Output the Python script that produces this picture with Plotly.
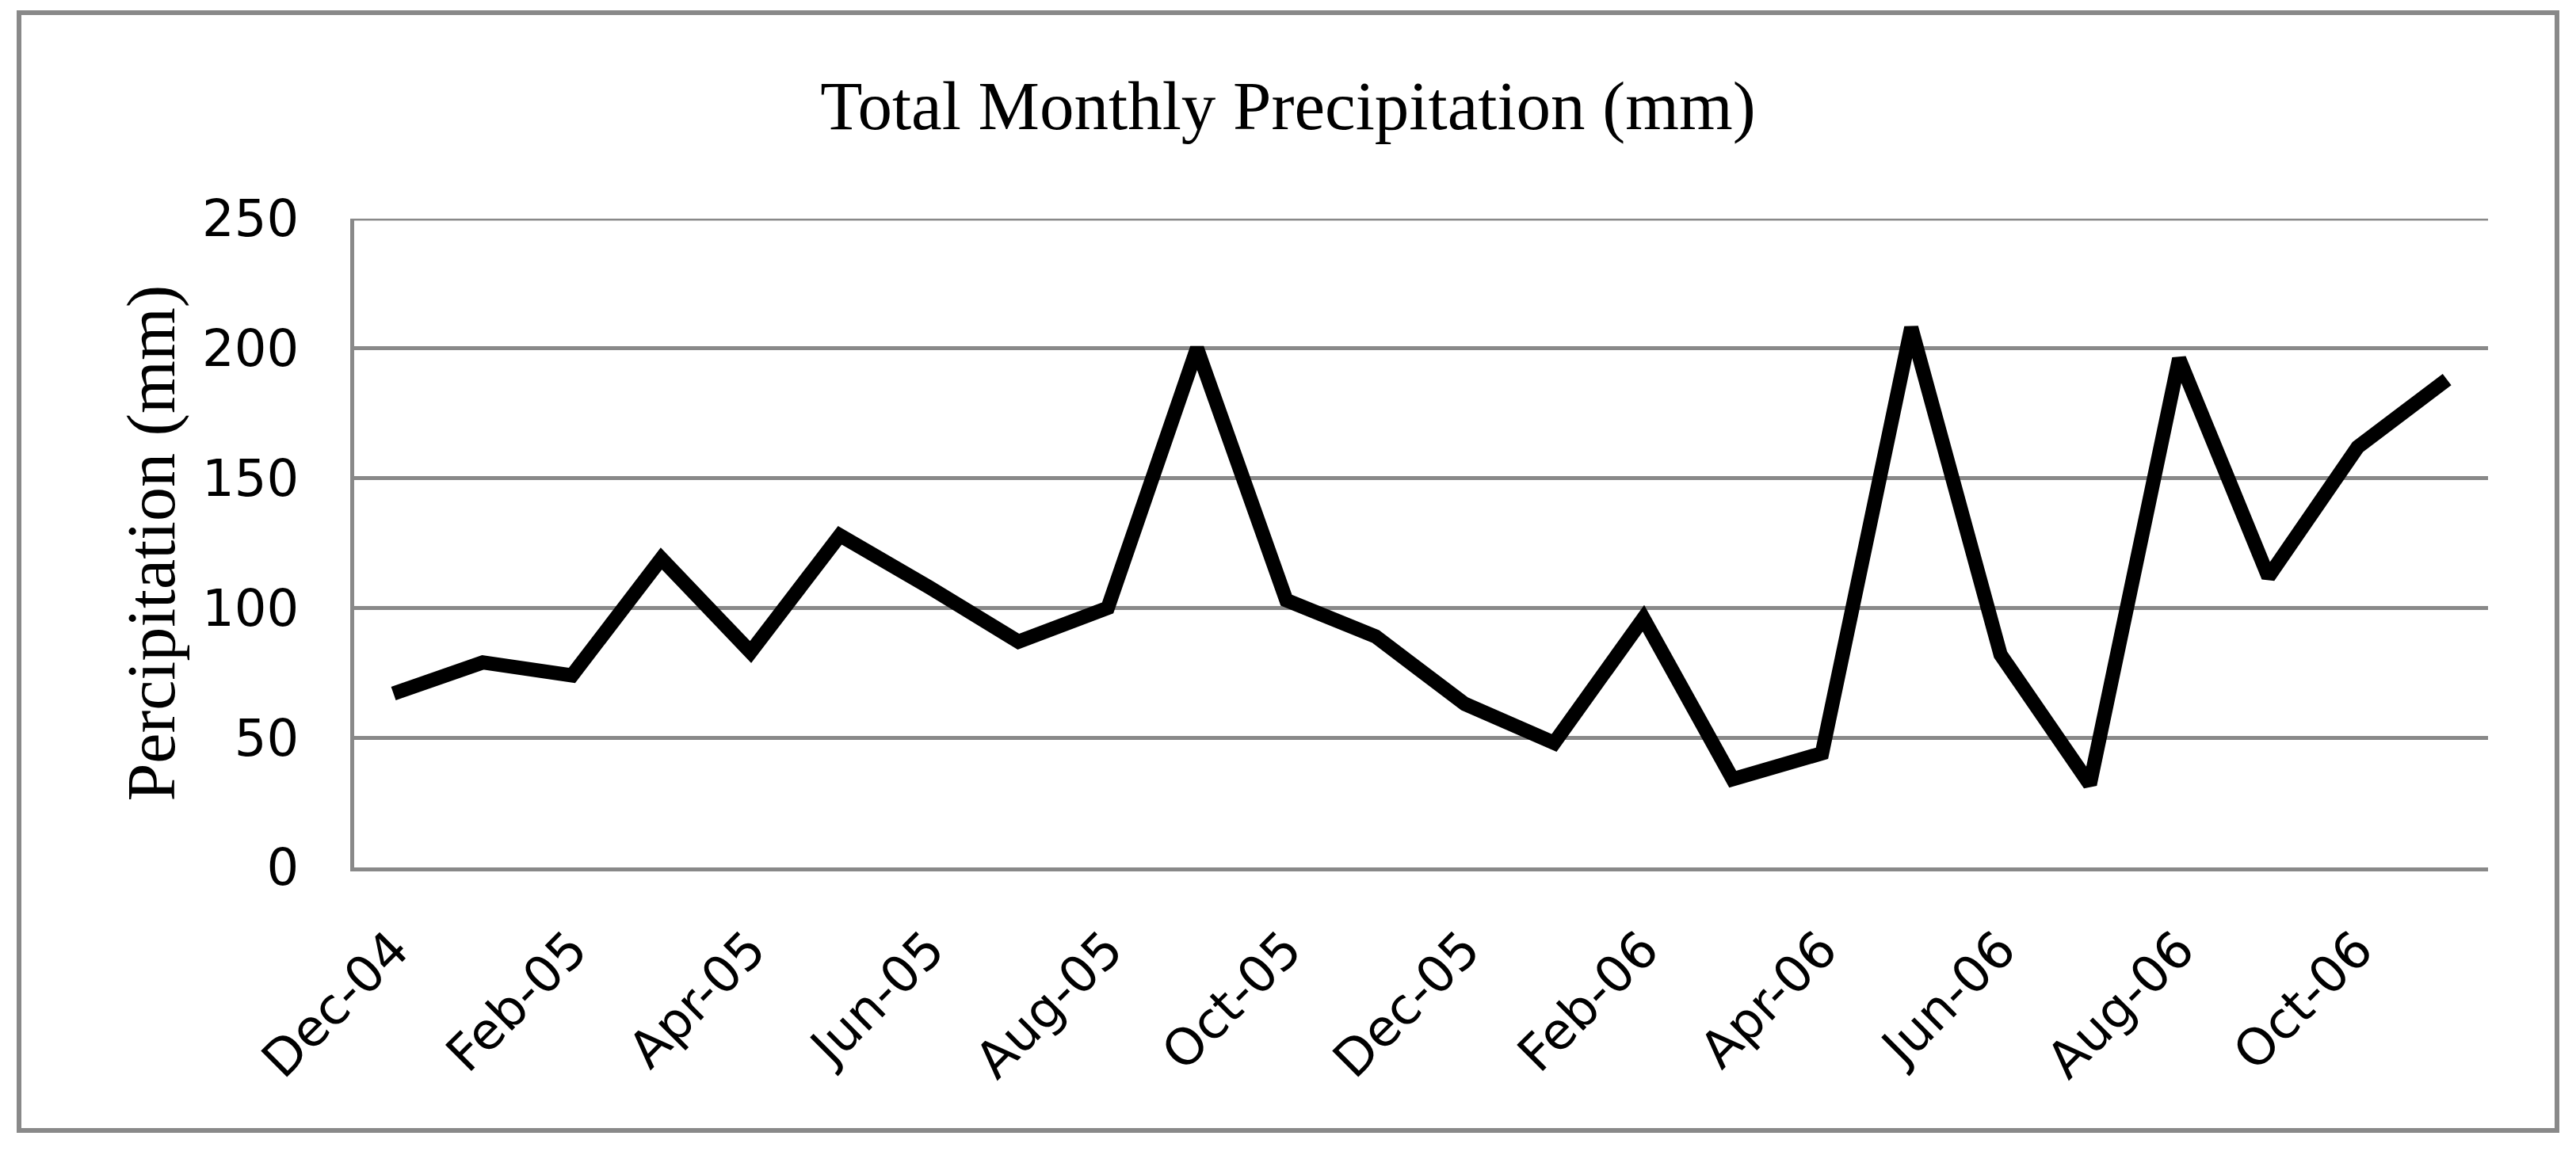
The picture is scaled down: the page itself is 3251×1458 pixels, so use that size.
import plotly.graph_objects as go

months = ["Dec-04", "Jan-05", "Feb-05", "Mar-05", "Apr-05", "May-05", "Jun-05", "Jul-05",
          "Aug-05", "Sep-05", "Oct-05", "Nov-05", "Dec-05", "Jan-06", "Feb-06", "Mar-06",
          "Apr-06", "May-06", "Jun-06", "Jul-06", "Aug-06", "Sep-06", "Oct-06", "Nov-06"]
precip = [67, 79, 74, 119, 83, 128, 108, 87, 100, 200, 103, 89, 63, 48, 96, 34,
          44, 208, 82, 32, 196, 112, 162, 188]
tick_labels = months[::2]
y_ticks = [0, 50, 100, 150, 200, 250]

W, H = 3251, 1458
L, R, T, B = 447, 111, 276, 363
pw, ph = W - L - R, H - T - B

GRID = "#898989"

fig = go.Figure()
fig.add_trace(go.Scatter(
    x=months, y=precip, mode="lines",
    line=dict(color="black", width=18),
    showlegend=False,
))

fig.update_layout(
    width=W, height=H,
    margin=dict(l=L, r=R, t=T, b=B),
    paper_bgcolor="white", plot_bgcolor="white",
    title=dict(text="Total Monthly Precipitation (mm)",
               font=dict(family="Liberation Serif", size=87, color="black"),
               x=0.5, xref="container", xanchor="center",
               y=1 - 133 / H, yref="container", yanchor="middle"),
    xaxis=dict(type="category", categoryorder="array", categoryarray=months,
               range=[-0.44, len(months) - 0.54],
               tickmode="array", tickvals=tick_labels, ticktext=tick_labels,
               tickangle=-45, showgrid=False, showline=True, linecolor=GRID, linewidth=5,
               ticks="", ticklabelstandoff=35,
               tickfont=dict(family="DejaVu Sans", size=64, color="black"),
               zeroline=False),
    yaxis=dict(range=[0, 250], tickvals=y_ticks, showgrid=True, gridcolor=GRID, gridwidth=5,
               showline=True, linecolor=GRID, linewidth=5, zeroline=False, ticks="",
               ticklabelstandoff=52,
               tickfont=dict(family="DejaVu Sans", size=64, color="black")),
    annotations=[dict(text="Percipitation (mm)", xref="paper", yref="paper",
                      x=(190 - L) / pw, y=0.5, xanchor="center", yanchor="middle",
                      textangle=-90, showarrow=False,
                      font=dict(family="Liberation Serif", size=86, color="black"))],
    shapes=[
        dict(type="rect", xref="paper", yref="paper",
             x0=(24 - L) / pw, x1=(3227 - L) / pw,
             y0=(ph + T - 1427) / ph, y1=(ph + T - 16) / ph,
             line=dict(color=GRID, width=6), fillcolor="rgba(0,0,0,0)", layer="below"),
        dict(type="line", xref="paper", yref="y", x0=0, x1=1, y0=y_ticks[-1], y1=y_ticks[-1],
             line=dict(color=GRID, width=5), layer="below"),
    ],
)

fig.write_html("out.html", config={"displayModeBar": False},
               post_script="document.body.style.margin='0';document.body.style.overflow='hidden';")
